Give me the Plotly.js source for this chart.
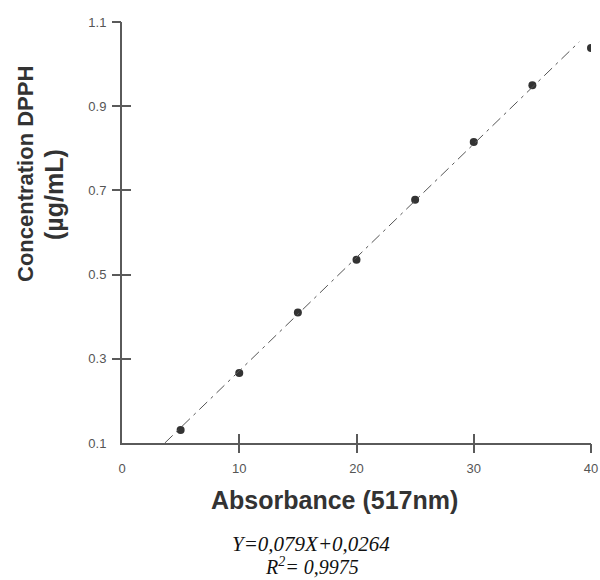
<!DOCTYPE html>
<html>
<head>
<meta charset="utf-8">
<script src="https://cdn.plot.ly/plotly-3.0.1.min.js"></script>
<style>html,body{margin:0;padding:0;background:#fff;}#chart{width:600px;height:580px;}</style>
</head>
<body>
<div id="chart"></div>
<script>
var absorbance = [5, 10, 15, 20, 25, 30, 35, 40];
var concentration = [0.131, 0.266, 0.410, 0.535, 0.678, 0.815, 0.950, 1.038];
var fitX = [3.65, 39.0];
var fitY = [0.1, 1.053];
var xTicks = [0, 10, 20, 30, 40];
var yTicks = [0.1, 0.3, 0.5, 0.7, 0.9, 1.1];
var yTickText = ['0.1', '0.3', '0.5', '0.7', '0.9', '1.1'];
var xMarkTicks = [10, 20, 30, 40];
var yMarkTicks = [0.3, 0.5, 0.7, 0.9, 1.1];

var axisCol = '#5a5a5a';
var data = [
  {x: absorbance, y: concentration, type: 'scatter', mode: 'markers',
   marker: {color: '#333', size: 8, symbol: 'circle'}},
  {x: fitX, y: fitY, type: 'scatter', mode: 'lines', xaxis: 'x2', yaxis: 'y2',
   line: {color: '#555', width: 1, dash: '11px,5px,3px,5px'}, hoverinfo: 'skip'}
];
var tf = {family: 'Arial, Liberation Sans', size: 13, color: '#555'};
var layout = {
  width: 600, height: 580, showlegend: false,
  paper_bgcolor: '#fff', plot_bgcolor: '#fff',
  margin: {l: 122, r: 9, t: 22, b: 137},
  xaxis: {range: [0, 40], tickvals: xTicks, ticktext: xTicks.map(String), ticks: 'inside', ticklen: 9,
    tickwidth: 2, tickcolor: axisCol, ticklabelstandoff: 12,
    showgrid: false, zeroline: false, showline: true, linecolor: axisCol, linewidth: 2, tickfont: tf},
  yaxis: {range: [0.1, 1.1], tickvals: yTicks, ticktext: yTickText, ticks: 'inside', ticklen: 9,
    tickwidth: 2, tickcolor: axisCol, ticklabelstandoff: 11,
    showgrid: false, zeroline: false, showline: true, linecolor: axisCol, linewidth: 2, tickfont: tf},
  xaxis2: {overlaying: 'x', side: 'bottom', range: [0, 40], tickvals: xMarkTicks, ticks: 'outside', ticklen: 9,
    tickwidth: 2, tickcolor: axisCol, showticklabels: false, showgrid: false, zeroline: false, showline: false},
  yaxis2: {overlaying: 'y', side: 'left', range: [0.1, 1.1], tickvals: yMarkTicks, ticks: 'outside', ticklen: 9,
    tickwidth: 2, tickcolor: axisCol, showticklabels: false, showgrid: false, zeroline: false, showline: false},
  annotations: [
    {text: '<b>Absorbance (517nm)</b>', xref: 'paper', yref: 'paper', x: (334-122)/469, y: -(500-443)/421,
     xanchor: 'center', yanchor: 'middle', showarrow: false, font: {family: 'Arial, Liberation Sans', size: 25, color: '#333'}},
    {text: '<b>Concentration DPPH</b>', xref: 'paper', yref: 'paper', x: -(122-25)/469, y: (443-174)/421, textangle: -90,
     xanchor: 'center', yanchor: 'middle', showarrow: false, font: {family: 'Arial, Liberation Sans', size: 22, color: '#333'}},
    {text: '<b>(µg/mL)</b>', xref: 'paper', yref: 'paper', x: -(122-54)/469, y: (443-195)/421, textangle: -90,
     xanchor: 'center', yanchor: 'middle', showarrow: false, font: {family: 'Arial, Liberation Sans', size: 25, color: '#333'}},
    {text: '<i>Y=0,079X+0,0264</i>', xref: 'paper', yref: 'paper', x: (311-122)/469, y: -(544-443)/421,
     xanchor: 'center', yanchor: 'middle', showarrow: false, font: {family: 'Liberation Serif, Times New Roman', size: 21, color: '#111'}},
    {text: '<i>R<sup>2</sup>= 0,9975</i>', xref: 'paper', yref: 'paper', x: (312-122)/469, y: -(566-443)/421,
     xanchor: 'center', yanchor: 'middle', showarrow: false, font: {family: 'Liberation Serif, Times New Roman', size: 20, color: '#111'}}
  ]
};
Plotly.newPlot('chart', data, layout, {displayModeBar: false, staticPlot: true});
</script>
</body>
</html>
